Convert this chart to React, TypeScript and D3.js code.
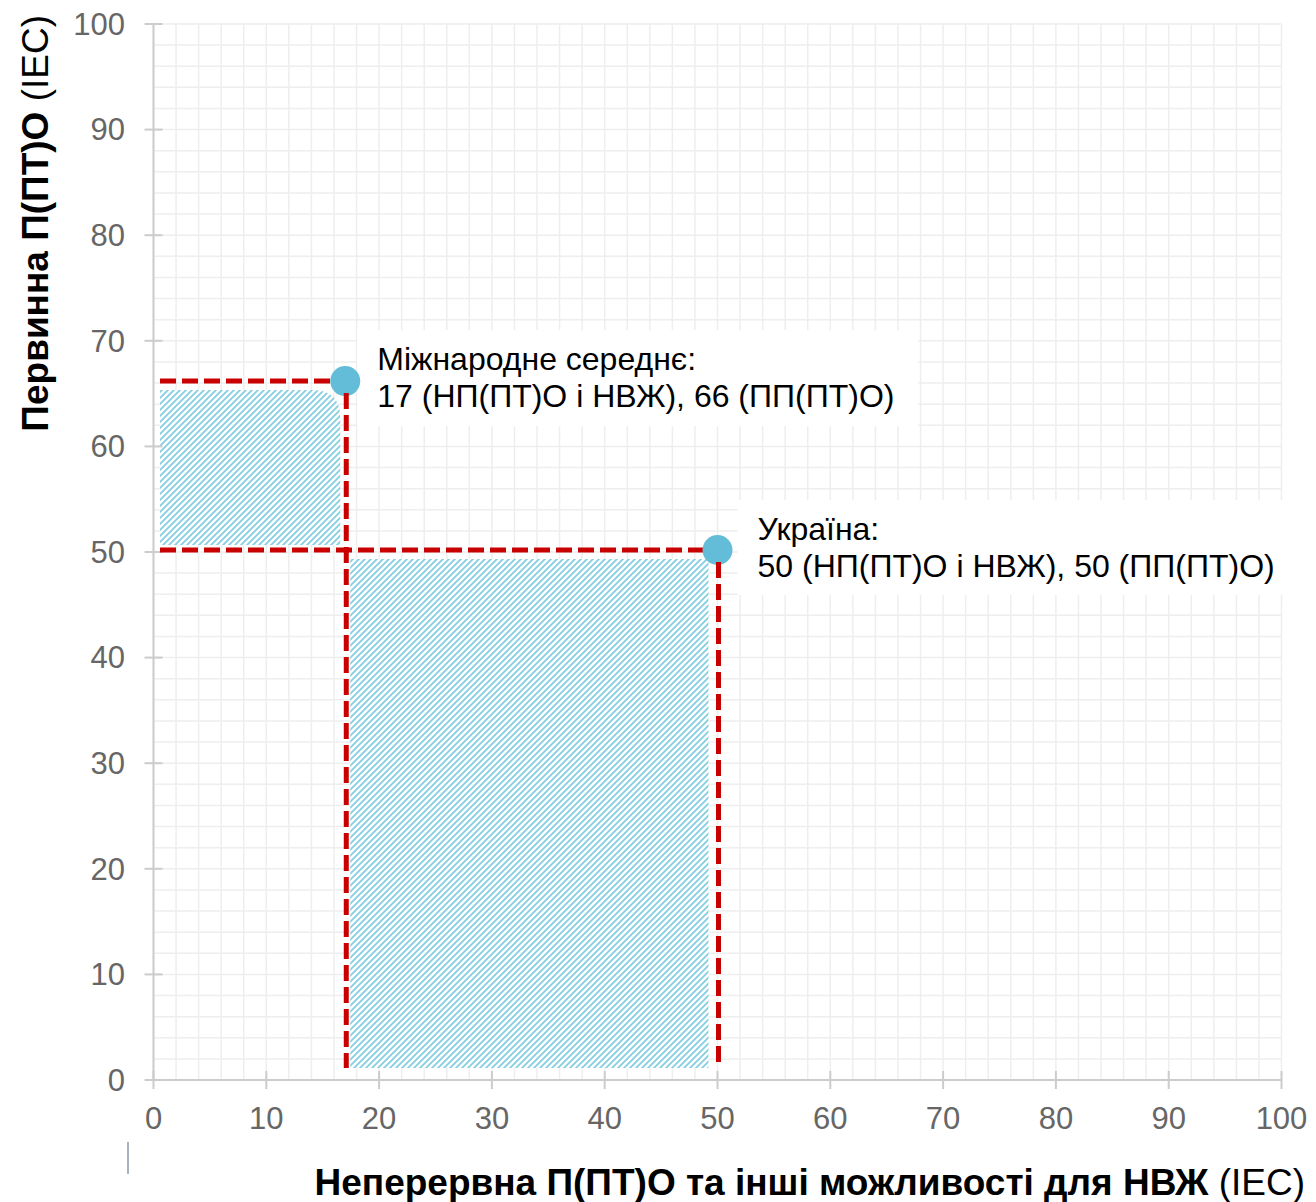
import React from 'react';
import * as d3 from 'd3';

const pointNames = ['Міжнародне середнє', 'Україна'];
const xValues = [17, 50];
const yValues = [66, 50];
const labelLine1 = ['Міжнародне середнє:', 'Україна:'];
const labelLine2 = ['17 (НП(ПТ)О і НВЖ), 66 (ПП(ПТ)О)', '50 (НП(ПТ)О і НВЖ), 50 (ПП(ПТ)О)'];
const xTicks = [0, 10, 20, 30, 40, 50, 60, 70, 80, 90, 100];
const yTicks = [0, 10, 20, 30, 40, 50, 60, 70, 80, 90, 100];
const xTitleBold = 'Неперервна П(ПТ)О та інші можливості для НВЖ';
const yTitleBold = 'Первинна П(ПТ)О';
const titleSuffix = ' (IEC)';

const W = 1316;
const H = 1202;
const FONT = '"Liberation Sans", Arial, Helvetica, sans-serif';
const RED = '#c80000';
const DOT = '#63bdd8';

export default function App() {
  const x = d3.scaleLinear().domain([0, 100]).range([153.5, 1281.5]);
  const y = d3.scaleLinear().domain([0, 100]).range([1080, 24]);
  const gridX = d3.range(0, 101, 2);
  const gridY = d3.range(0, 101, 2);
  const bottom = y(0) - 12;

  const [ax, ux] = xValues;
  const [ay, uy] = yValues;

  const r1 = { x0: x(0) + 6.5, x1: x(ax) - 5, y0: y(ay) + 7, y1: y(uy) - 7 };
  const rad = 28;
  const region1 = `M${r1.x0},${r1.y0} L${r1.x1 - rad},${r1.y0} Q${r1.x1},${r1.y0} ${r1.x1},${r1.y0 + rad} L${r1.x1},${r1.y1} L${r1.x0},${r1.y1} Z`;
  const r2 = { x0: x(ax) + 5, x1: x(ux) - 9, y0: y(uy) + 7, y1: bottom };

  const boxes = [
    { x: x(ax) + 12, y: y(ay) - 53, w: 561, h: 96 },
    { x: x(ux) + 20, y: y(uy) - 52, w: 562, h: 95 },
  ];

  return (
    <svg
      width={W}
      height={H}
      style={{ position: 'absolute', left: 0, top: 0, background: '#fff' }}
      fontFamily={FONT}
    >
      <defs>
        <pattern id="hatch" patternUnits="userSpaceOnUse" width={6} height={6}>
          <rect width={6} height={6} fill="#ffffff" />
          <path d="M-1,7 L7,-1 M-4,4 L4,-4 M2,10 L10,2" stroke="#84cee2" strokeWidth={1.8} />
        </pattern>
      </defs>

      <g stroke="#eeeeee" strokeWidth={1.5}>
        {gridX.map((v) => (
          <line key={'gx' + v} x1={x(v)} x2={x(v)} y1={y(0)} y2={y(100)} />
        ))}
        {gridY.map((v) => (
          <line key={'gy' + v} x1={x(0)} x2={x(100)} y1={y(v)} y2={y(v)} />
        ))}
      </g>

      <path d={region1} fill="url(#hatch)" />
      <rect x={r2.x0} y={r2.y0} width={r2.x1 - r2.x0} height={r2.y1 - r2.y0} fill="url(#hatch)" />

      <g stroke="#cccccc" strokeWidth={2}>
        <line x1={x(0)} x2={x(0)} y1={y(100)} y2={y(0)} />
        <line x1={x(0)} x2={x(100)} y1={y(0)} y2={y(0)} />
        {yTicks.map((v) => (
          <line key={'yt' + v} x1={x(0) - 9} x2={x(0) + 9} y1={y(v)} y2={y(v)} />
        ))}
        {xTicks.map((v) => (
          <line key={'xt' + v} x1={x(v)} x2={x(v)} y1={y(0) - 9} y2={y(0) + 9} />
        ))}
      </g>
      <g fill="#666666" fontSize={31}>
        {yTicks.map((v) => (
          <text key={'yl' + v} x={125} y={y(v)} dy="0.35em" textAnchor="end">
            {v}
          </text>
        ))}
        {xTicks.map((v) => (
          <text key={'xl' + v} x={x(v)} y={1129} textAnchor="middle">
            {v}
          </text>
        ))}
      </g>

      {pointNames.map((n, i) => (
        <g key={'lb' + n}>
          <rect x={boxes[i].x} y={boxes[i].y} width={boxes[i].w} height={boxes[i].h} fill="#ffffff" />
          <text x={boxes[i].x + 20} y={boxes[i].y + 40} fontSize={32} fill="#000">
            {labelLine1[i]}
          </text>
          <text x={boxes[i].x + 20} y={boxes[i].y + 77} fontSize={32} fill="#000">
            {labelLine2[i]}
          </text>
        </g>
      ))}

      <g stroke={RED} strokeWidth={5} strokeDasharray="16 6" fill="none">
        {pointNames.map((n, i) => (
          <line key={'h' + n} x1={x(0) + 6.5} x2={x(xValues[i])} y1={y(yValues[i]) - 2} y2={y(yValues[i]) - 2} />
        ))}
      </g>

      {pointNames.map((n, i) => (
        <circle key={'d' + n} cx={x(xValues[i])} cy={y(yValues[i]) - 2} r={15} fill={DOT} />
      ))}

      <g stroke={RED} strokeWidth={5} strokeDasharray="16 6" fill="none">
        {pointNames.map((n, i) => (
          <line key={'v' + n} x1={x(xValues[i]) + 1} x2={x(xValues[i]) + 1} y1={y(yValues[i]) + 10} y2={bottom} />
        ))}
      </g>

      <text x={1305} y={1195} textAnchor="end" fontSize={37} fill="#000">
        <tspan fontWeight="bold">{xTitleBold}</tspan>
        <tspan>{titleSuffix}</tspan>
      </text>
      <text transform="translate(48,15) rotate(-90)" textAnchor="end" fontSize={37} fill="#000">
        <tspan fontWeight="bold">{yTitleBold}</tspan>
        <tspan>{titleSuffix}</tspan>
      </text>

      <line x1={128} x2={128} y1={1142} y2={1174} stroke="#8a9bab" strokeWidth={1.5} />
    </svg>
  );
}
